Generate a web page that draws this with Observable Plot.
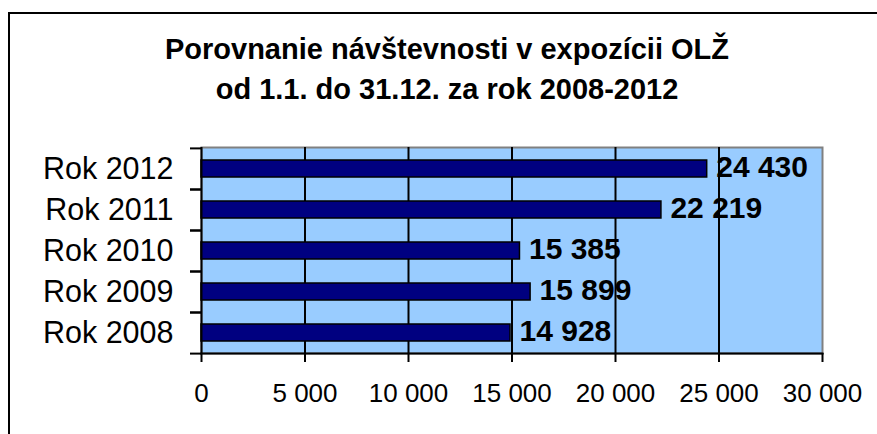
<!DOCTYPE html>
<html>
<head>
<meta charset="utf-8">
<script src="https://cdn.jsdelivr.net/npm/d3@7"></script>
<script src="https://cdn.jsdelivr.net/npm/@observablehq/plot@0.6"></script>
<style>
  html, body { margin: 0; padding: 0; background: #fff; }
  body { font-family: "Liberation Sans", Arial, sans-serif; }
  #wrap { position: relative; width: 877px; height: 434px; overflow: hidden; }
  #box { position: absolute; left: 8px; top: 12px; width: 920px; height: 520px; border: 2.5px solid #000; box-sizing: border-box; }
  #title { position: absolute; left: 8px; width: 878px; top: 29px; text-align: center; font-weight: bold; font-size: 29px; line-height: 40px; color: #000; }
  #chart { position: absolute; left: 0; top: 0; }
</style>
</head>
<body>
<div id="wrap">
  <div id="box"></div>
  <div id="title">Porovnanie návštevnosti v expozícii OLŽ<br>od 1.1. do 31.12. za rok 2008-2012</div>
  <div id="chart"></div>
</div>
<script>
const years = ["Rok 2008", "Rok 2009", "Rok 2010", "Rok 2011", "Rok 2012"];
const visitors = [14928, 15899, 15385, 22219, 24430];
const xTicks = [0, 5000, 10000, 15000, 20000, 25000, 30000];

const data = years.map((y, i) => ({year: y, value: visitors[i]}));
const fmt = d => d3.format(",")(d).replace(/,/g, " ");

const W = 877, H = 434, mL = 201, mR = 55, mT = 147, mB = 81;
const step = (H - mT - mB) / years.length;
const gridTicks = xTicks.filter(t => t > xTicks[0] && t < xTicks[xTicks.length - 1]);

const chart = Plot.plot({
  width: W, height: H,
  marginLeft: mL, marginRight: mR, marginTop: mT, marginBottom: mB,
  style: {fontFamily: "'Liberation Sans', Arial, sans-serif", background: "transparent", color: "#000", overflow: "visible"},
  x: {domain: [xTicks[0], xTicks[xTicks.length - 1]]},
  y: {domain: years.slice().reverse(), paddingInner: 0.587, paddingOuter: 0.2935},
  marks: [
    Plot.frame({fill: "#99CCFF", stroke: "#808080", strokeWidth: 2}),
    Plot.ruleX(gridTicks, {stroke: "#000", strokeWidth: 2}),
    Plot.barX(data, {x: "value", y: "year", fill: "#000080", stroke: "#000", strokeWidth: 1.5}),
    Plot.ruleX([xTicks[0]], {stroke: "#000", strokeWidth: 2}),
    Plot.frame({anchor: "bottom", stroke: "#000", strokeWidth: 2}),
    Plot.text(data, {x: "value", y: "year", text: d => fmt(d.value), textAnchor: "start", dx: 9, dy: -2, fontSize: 30, fontWeight: "bold", fill: "#000"}),
    Plot.axisX({ticks: xTicks, tickSize: 9, tickPadding: 21, tickFormat: fmt, fontSize: 26, strokeWidth: 2, label: null}),
    Plot.axisY({tickSize: 0, tickPadding: 28, fontSize: 30.5, label: null}),
    Plot.axisY({tickSize: 11, tickFormat: () => "", dy: -step / 2, strokeWidth: 2, label: null}),
    Plot.axisY({tickSize: 11, tickFormat: () => "", dy: step / 2, strokeWidth: 2, label: null})
  ]
});
document.getElementById("chart").appendChild(chart);
</script>
</body>
</html>
